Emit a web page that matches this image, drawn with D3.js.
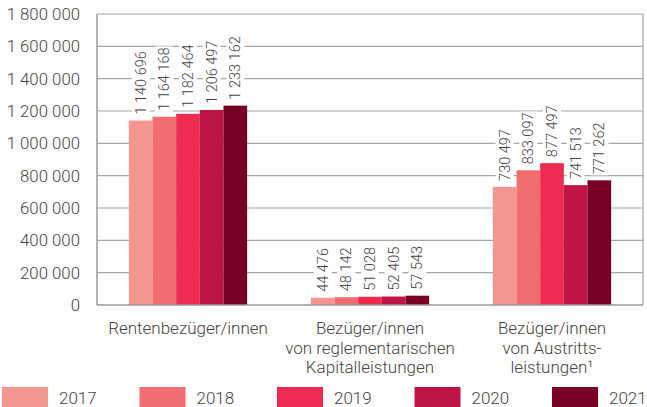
<!DOCTYPE html>
<html>
<head>
<meta charset="utf-8">
<script src="https://cdn.jsdelivr.net/npm/d3@7"></script>
<style>
  body { margin: 0; background: #fff; }
  text { font-family: Roboto, "Noto Sans", sans-serif; font-weight: 300; fill: #444; }
</style>
</head>
<body>
<div id="chart"></div>
<script>
const categories = [
    ["Rentenbezüger/innen"],
    ["Bezüger/innen", "von reglementarischen", "Kapitalleistungen"],
    ["Bezüger/innen", "von Austritts-", "leistungen¹"]
];
const years = ["2017", "2018", "2019", "2020", "2021"];
const v2017 = [1140696, 44476, 730497];
const v2018 = [1164168, 48142, 833097];
const v2019 = [1182464, 51028, 877497];
const v2020 = [1206497, 52405, 741513];
const v2021 = [1233162, 57543, 771262];
const yTicks = [0, 200000, 400000, 600000, 800000, 1000000, 1200000, 1400000, 1600000, 1800000];
const colors = ["#f5958f", "#f26d6f", "#ee2b50", "#be1446", "#780024"];

const series = [v2017, v2018, v2019, v2020, v2021];
const W = 647, H = 407;
const mLeft = 97, mRight = 643, mTop = 14, mBottom = 305;

const fmt = n => d3.format(",")(n).replace(/,/g, " ");

const svg = d3.select("#chart").append("svg")
    .attr("width", W).attr("height", H);

const x0 = d3.scaleBand().domain(d3.range(categories.length))
    .range([mLeft, mRight]).paddingInner(0).paddingOuter(0);
const x1 = d3.scaleBand().domain(years)
    .range([x0.bandwidth() * 0.175, x0.bandwidth() * 0.825]);
const y = d3.scaleLinear().domain([0, 1800000]).range([mBottom, mTop]);

// grid
svg.append("g").selectAll("line")
    .data(yTicks.slice(1))
    .enter().append("line")
    .attr("x1", mLeft).attr("x2", mRight)
    .attr("y1", d => y(d)).attr("y2", d => y(d))
    .attr("stroke", "#a6a6a6").attr("stroke-width", 1.2);

// right border
svg.append("line")
    .attr("x1", mRight).attr("x2", mRight).attr("y1", mTop).attr("y2", mBottom)
    .attr("stroke", "#a6a6a6").attr("stroke-width", 1.2);

// y axis labels
const yAxis = svg.append("g")
    .attr("transform", `translate(${mLeft},0)`)
    .call(d3.axisLeft(y).tickValues(yTicks).tickSize(0).tickPadding(17).tickFormat(fmt));
yAxis.select(".domain").remove();
yAxis.selectAll("text")
    .style("font-family", "Roboto, sans-serif")
    .style("font-weight", 300)
    .style("font-size", "16.8px")
    .attr("fill", "#444");

// bars
const groups = svg.append("g").selectAll("g")
    .data(categories.map((c, i) => i))
    .enter().append("g")
    .attr("transform", i => `translate(${x0(i)},0)`);

groups.selectAll("rect")
    .data(i => years.map((yr, k) => ({yr, k, v: series[k][i]})))
    .enter().append("rect")
    .attr("x", d => x1(d.yr))
    .attr("width", x1.bandwidth())
    .attr("y", d => y(d.v))
    .attr("height", d => mBottom - y(d.v))
    .attr("fill", d => colors[d.k]);

// value labels with white background
const labels = groups.selectAll("g.lab")
    .data(i => years.map((yr, k) => ({yr, k, v: series[k][i]})))
    .enter().append("g")
    .attr("class", "lab")
    .attr("transform", d => `translate(${x1(d.yr) + x1.bandwidth() / 2},${y(d.v) - 6}) rotate(-90)`);

labels.append("text")
    .attr("x", 0).attr("y", 0)
    .attr("dy", "0.35em")
    .attr("text-anchor", "start")
    .style("font-size", "14.5px")
    .text(d => fmt(d.v));

labels.each(function () {
    const g = d3.select(this);
    const bb = g.select("text").node().getBBox();
    g.insert("rect", "text")
        .attr("x", bb.x - 1).attr("width", bb.width + 2)
        .attr("y", -9).attr("height", 18)
        .attr("fill", "#fff");
});

// left & bottom axis lines
svg.append("line")
    .attr("x1", mLeft).attr("x2", mLeft).attr("y1", mTop).attr("y2", mBottom)
    .attr("stroke", "#999").attr("stroke-width", 1.5);
svg.append("line")
    .attr("x1", mLeft).attr("x2", mRight).attr("y1", mBottom).attr("y2", mBottom)
    .attr("stroke", "#999").attr("stroke-width", 1.5);

// category labels
categories.forEach((lines, i) => {
    const t = svg.append("text")
        .attr("x", x0(i) + x0.bandwidth() / 2)
        .attr("y", 334)
        .attr("text-anchor", "middle")
        .style("font-size", "17px");
    lines.forEach((l, j) => {
        t.append("tspan")
            .attr("x", x0(i) + x0.bandwidth() / 2)
            .attr("dy", j === 0 ? 0 : 19.5)
            .text(l);
    });
});

// legend
const leg = svg.append("g").selectAll("g")
    .data(years)
    .enter().append("g")
    .attr("transform", (d, i) => `translate(${2 + i * 137.5},387)`);
leg.append("rect")
    .attr("width", 46).attr("height", 20)
    .attr("fill", (d, i) => colors[i]);
leg.append("text")
    .attr("x", 57).attr("y", 17)
    .style("font-size", "17px")
    .text(d => d);
</script>
</body>
</html>
